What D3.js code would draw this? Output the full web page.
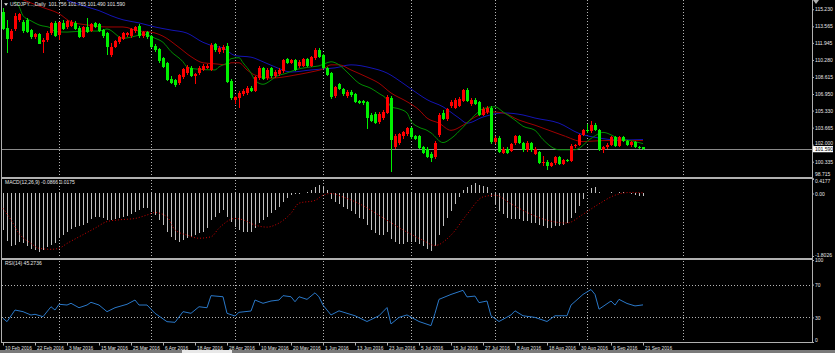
<!DOCTYPE html>
<html><head><meta charset="utf-8">
<script src="https://cdn.jsdelivr.net/npm/d3@7"></script>
<style>body{margin:0;background:#000;overflow:hidden}svg{display:block}text{font-family:"Liberation Sans",Arial,sans-serif}</style>
</head><body>
<svg id="c" width="835" height="353"></svg>
<script>
// ---------------- DATA ----------------
const symbolTitle = "USDJPY...,Daily  101.756 101.765 101.490 101.590";
const macdTitle = "MACD(12,26,9) -0.0866 0.0175";
const rsiTitle = "RSI(14) 45.2736";
const firstDate = "2016-02-10";
const lastPrice = 101.590;

const opens = [115.00,113.40,112.35,113.30,114.20,114.00,114.20,113.20,112.50,112.85,
112.00,112.20,112.90,113.90,112.70,113.90,113.50,113.60,113.90,113.40,
112.50,113.50,113.10,113.90,113.75,113.25,112.90,110.80,111.55,112.00,
112.30,112.70,112.60,113.10,113.60,112.60,113.00,112.60,111.65,111.30,
110.45,110.00,108.40,108.30,108.00,108.60,109.00,109.50,108.70,109.00,
109.30,109.45,109.30,111.80,111.05,111.25,111.65,108.20,106.35,106.55,
106.95,107.05,107.55,107.25,108.50,109.50,108.50,109.50,108.70,108.90,
109.20,110.35,110.00,110.25,109.65,109.70,110.35,109.70,110.45,111.25,
110.75,109.50,109.00,106.75,107.90,107.40,106.75,107.15,106.95,106.25,
106.30,106.15,104.90,105.00,104.20,104.60,105.10,106.60,101.80,102.20,
102.80,103.00,103.60,102.85,102.80,101.75,101.60,101.05,100.80,102.90,
105.10,104.50,105.75,105.60,105.80,106.30,107.30,105.95,106.40,106.15,
104.90,105.15,105.60,102.25,102.65,101.20,101.60,101.40,102.20,102.80,
102.20,101.45,102.20,101.05,101.25,100.25,100.30,99.90,100.20,100.75,
100.15,100.50,100.45,101.85,101.95,102.95,103.40,103.30,103.95,103.40,
101.50,101.80,102.00,102.70,101.90,102.70,102.40,102.00,102.25,101.80,101.756];
const highs = [115.35,114.20,113.30,114.85,114.90,114.15,114.40,113.35,112.95,112.95,
112.40,113.10,114.00,114.10,114.00,114.20,114.20,114.20,114.10,113.55,
113.60,114.35,113.90,114.00,113.90,113.35,113.00,111.90,112.25,112.60,
113.00,113.05,113.40,113.60,113.80,113.10,113.15,112.75,111.80,111.45,
110.55,110.10,108.70,108.45,108.95,109.50,109.75,109.65,109.00,109.65,
109.85,109.85,111.90,111.95,111.60,111.70,111.90,108.40,106.80,107.20,
107.40,107.70,107.75,108.75,109.65,109.60,109.45,109.60,109.25,109.45,
110.40,110.50,110.40,110.40,110.25,110.50,110.45,110.70,111.40,111.45,
110.85,109.60,109.10,107.75,108.05,107.55,107.30,107.35,107.05,106.40,
106.40,106.25,105.05,105.20,105.15,105.40,106.85,106.80,103.00,103.10,
103.35,103.70,103.70,102.95,102.95,101.90,101.75,101.25,102.40,105.10,
105.40,105.60,106.35,106.55,106.65,107.45,107.50,106.55,106.55,106.30,
105.65,105.75,105.80,102.80,102.85,101.75,101.80,102.15,102.90,102.95,
102.30,102.35,102.30,101.75,101.35,100.90,100.50,100.35,100.85,100.85,
100.60,100.60,102.05,102.10,103.05,103.55,104.00,104.30,104.10,103.50,
101.90,102.15,102.85,102.80,102.85,102.80,102.45,102.40,102.35,101.90,101.765];
const lows = [113.20,111.00,112.10,113.15,113.95,112.90,112.90,112.35,112.35,111.80,
111.00,112.00,112.70,112.55,112.25,113.20,113.35,113.45,113.20,112.40,
112.40,112.90,113.00,113.40,113.00,112.45,110.75,110.60,111.40,111.85,
112.20,112.55,112.45,112.95,112.40,112.45,112.35,111.45,111.10,110.00,
109.45,108.20,107.90,107.60,107.85,108.45,108.85,108.60,107.90,108.85,
109.15,109.35,109.20,111.10,110.90,110.95,108.00,106.40,106.00,105.60,
106.80,106.90,107.10,107.10,108.35,108.30,108.35,108.55,108.55,108.75,
109.05,109.90,109.85,109.20,109.50,109.55,109.60,109.55,110.30,110.45,
109.40,108.70,106.50,106.60,107.30,106.80,106.60,106.70,106.05,105.95,
105.90,103.55,104.20,104.00,104.05,104.45,104.95,99.30,101.60,102.00,
102.60,102.85,102.55,102.45,101.60,101.05,100.65,100.30,100.60,102.70,
104.40,104.35,105.60,105.45,105.70,106.15,106.15,105.80,105.85,104.80,
104.80,105.00,102.10,102.10,101.15,101.05,101.05,101.25,102.00,102.05,
101.30,101.30,101.30,100.95,100.15,99.95,99.55,99.85,100.05,100.05,
100.05,100.35,100.35,101.70,101.85,102.80,103.10,103.15,103.30,101.40,
101.20,101.55,101.90,101.80,101.75,102.25,101.90,101.80,101.70,101.55,101.490];
const closes = [113.35,112.30,113.10,114.60,114.75,113.10,113.05,112.55,112.85,111.85,
112.20,112.95,113.90,112.65,113.95,113.30,114.10,114.00,113.30,112.50,
113.50,113.00,113.80,113.50,113.10,112.60,111.50,111.55,112.10,112.50,
112.90,112.95,113.30,113.45,112.60,113.00,112.50,111.55,111.25,110.15,
109.60,108.30,108.05,107.85,108.80,109.40,109.60,108.70,108.90,109.50,
109.70,109.70,111.70,111.25,111.45,111.55,108.10,106.55,106.65,107.05,
107.25,107.55,107.25,108.60,109.50,108.40,109.30,108.70,109.10,109.30,
110.25,110.00,110.25,109.30,110.10,110.35,109.70,110.55,111.25,110.55,
109.50,108.80,106.70,107.60,107.40,106.95,107.15,106.85,106.15,106.05,
106.05,104.60,104.30,104.10,105.00,105.20,106.70,102.45,102.85,103.00,
103.20,103.60,102.70,102.60,101.70,101.20,100.80,100.70,102.20,104.90,
104.50,105.50,106.20,106.40,106.50,107.30,106.30,106.40,106.00,104.90,
105.50,105.60,102.25,102.65,101.30,101.60,101.20,102.05,102.80,102.20,
101.45,102.20,101.45,101.60,100.25,100.30,99.90,100.20,100.75,100.15,
100.50,100.45,101.85,101.95,102.95,103.40,103.30,103.95,103.40,101.50,
101.80,102.00,102.70,101.90,102.70,102.40,102.00,102.25,101.80,101.75,101.590];

// moving averages, read as [bar index, price]
const maFast = [[3,116.0],[4,115.5],[5,114.6],[7,114.1],[9,113.7],[12,113.4],[13,113.05],[16,113.0],[20,113.1],[24,113.1],[26,113.3],[30,112.4],[33,112.6],[35,112.8],[38,112.4],[40,112.0],[42,111.1],[45,110.1],[46,109.6],[48,109.4],[53,109.3],[54,109.6],[56,110.0],[57,110.4],[59,110.5],[60,110.0],[62,109.0],[63,108.3],[65,107.9],[67,108.3],[68,108.6],[71,109.0],[73,109.3],[77,109.6],[79,109.7],[81,110.0],[82,110.1],[84,109.8],[86,109.1],[89,108.0],[92,107.5],[94,107.0],[96,106.4],[97,105.7],[99,105.5],[101,105.1],[102,104.3],[104,103.7],[106,103.4],[107,103.15],[110,102.2],[112,102.6],[115,103.7],[118,104.9],[120,105.5],[123,105.7],[125,105.2],[128,104.4],[130,103.8],[133,103.4],[135,102.5],[139,101.5],[143,101.5],[147,102.6],[150,103.2],[154,102.6],[158,102.3],[160,102.1]];
const maMid = [[4,116.3],[8,115.7],[10,115.4],[14,114.8],[17,114.0],[21,113.7],[26,113.5],[30,113.5],[34,113.1],[37,113.0],[40,112.6],[44,111.5],[47,110.6],[50,110.0],[53,109.9],[56,109.8],[57,110.0],[59,110.0],[61,109.3],[63,108.8],[67,108.5],[70,108.6],[73,108.8],[77,109.1],[80,109.4],[82,109.8],[84,109.8],[87,109.3],[91,108.6],[94,108.0],[97,107.05],[101,106.2],[104,105.4],[106,104.6],[109,104.1],[112,103.4],[115,103.9],[118,104.7],[122,105.2],[125,105.1],[129,104.4],[133,103.9],[140,102.9],[145,102.3],[150,102.4],[155,102.4],[160,102.4]];
const maSlow = [[16,116.1],[21,115.45],[24,115.1],[27,114.6],[30,114.2],[34,113.9],[38,113.5],[42,113.2],[46,112.9],[50,112.0],[53,111.6],[55,111.45],[58,110.7],[62,110.55],[65,110.1],[68,109.6],[72,109.1],[77,109.3],[80,109.4],[83,109.5],[87,109.8],[92,109.5],[96,109.0],[100,108.0],[104,106.9],[106,106.4],[110,105.7],[114,104.6],[116,104.1],[120,104.7],[125,105.1],[130,104.9],[133,104.6],[139,104.1],[144,103.1],[149,102.65],[154,102.45],[160,102.5]];

const macdHist = [-1.05,-1.36,-1.51,-1.49,-1.39,-1.42,-1.51,-1.61,-1.63,-1.68,
-1.63,-1.55,-1.49,-1.44,-1.29,-1.20,-1.10,-1.03,-0.97,-0.94,
-0.91,-0.84,-0.74,-0.67,-0.67,-0.72,-0.76,-0.76,-0.74,-0.72,
-0.67,-0.65,-0.59,-0.52,-0.48,-0.43,-0.43,-0.52,-0.62,-0.76,
-0.91,-1.10,-1.25,-1.34,-1.39,-1.34,-1.29,-1.25,-1.20,-1.15,
-1.10,-1.00,-0.76,-0.67,-0.57,-0.48,-0.67,-0.81,-0.96,-1.05,
-1.10,-1.10,-1.10,-1.00,-0.86,-0.76,-0.67,-0.57,-0.48,-0.38,
-0.24,-0.14,-0.04,-0.01,-0.01,0.00,0.05,0.10,0.20,0.25,
0.20,0.10,-0.15,-0.25,-0.30,-0.40,-0.45,-0.50,-0.60,-0.70,
-0.75,-0.90,-1.05,-1.15,-1.20,-1.20,-1.10,-1.30,-1.40,-1.45,
-1.45,-1.40,-1.40,-1.40,-1.45,-1.50,-1.60,-1.65,-1.50,-1.20,
-0.95,-0.70,-0.50,-0.30,-0.10,0.10,0.20,0.25,0.30,0.25,
0.22,0.20,-0.10,-0.30,-0.50,-0.60,-0.70,-0.75,-0.75,-0.75,
-0.80,-0.80,-0.85,-0.85,-0.90,-0.95,-1.00,-1.00,-0.95,-0.95,
-0.90,-0.85,-0.70,-0.55,-0.35,-0.15,0.00,0.15,0.20,0.05,
0.00,0.00,0.05,0.02,0.05,0.03,0.00,-0.02,-0.05,-0.07,-0.0866];
const macdSignal = [[0,-0.43],[2,-0.76],[4,-1.15],[7,-1.44],[9,-1.58],[12,-1.61],[14,-1.58],[16,-1.44],[19,-1.25],[23,-1.00],[26,-0.81],[29,-0.76],[33,-0.72],[36,-0.62],[38,-0.55],[41,-0.67],[43,-1.05],[46,-1.20],[49,-1.29],[52,-1.25],[54,-1.00],[58,-0.72],[60,-0.76],[63,-0.91],[66,-0.97],[68,-0.91],[72,-0.57],[74,-0.28],[78,-0.2],[80,-0.05],[82,0.0],[85,-0.1],[90,-0.35],[95,-0.7],[100,-1.05],[105,-1.35],[108,-1.5],[112,-1.2],[116,-0.6],[120,-0.1],[123,-0.05],[127,-0.3],[132,-0.6],[137,-0.8],[141,-0.85],[145,-0.6],[149,-0.3],[153,-0.05],[157,0.03],[160,0.0175]];

const rsi = [[0,28.9],[1,24.8],[3,39.0],[5,37.0],[7,32.9],[8,33.8],[10,30.9],[12,43.0],[13,39.0],[14,46.0],[16,45.1],[17,47.2],[19,41.8],[21,45.1],[22,48.4],[24,45.1],[26,37.0],[28,41.8],[31,46.0],[33,51.2],[34,45.1],[36,45.1],[38,35.0],[41,24.8],[43,24.0],[45,37.0],[47,35.0],[49,43.0],[51,41.8],[52,56.5],[55,55.2],[56,35.0],[58,31.7],[59,36.2],[62,37.8],[63,51.2],[65,47.2],[67,50.0],[69,51.2],[70,56.5],[72,55.2],[73,49.1],[74,55.2],[76,52],[78,60],[79,55],[80,45],[82,33],[84,38],[86,35],[88,32],[91,25],[94,32],[96,42],[97,22],[99,30],[101,33],[104,25],[107,20],[108,35],[109,52],[112,58],[115,63],[116,55],[118,56],[119,48],[121,50],[122,32],[124,25],[127,33],[128,38],[130,32],[133,30],[136,25],[138,32],[141,32],[142,45],[145,58],[147,64],[148,58],[149,40],[152,50],[153,45],[154,52],[156,47],[158,44],[160,45.27]];

const priceTicks = [115.230,113.565,111.945,110.280,108.615,106.950,105.330,103.665,102.000,100.335,98.715];
const macdTicks = [0.4177,0.00,-1.8026];
const macdTickLabels = ["0.4177","0.00","-1.8026"];
const rsiTicks = [100,70,30,0];
const rsiLevels = [70,30];

// ---------------- LAYOUT ----------------
const W=835, H=353, plotR=812;
const svg=d3.select('#c');
svg.append('rect').attr('width',W).attr('height',H).attr('fill','#000');

const nBars = closes.length;
const parse = d3.timeParse("%Y-%m-%d");
const start = parse(firstDate);
// trading days for the bars, calendar days for the empty space on the right (as the terminal does)
const tradeDays = d3.timeDays(start, d3.timeDay.offset(start, 320)).filter(d=>d.getDay()!==0 && d.getDay()!==6).slice(0, nBars);
const x = d3.scaleLinear().domain([0, nBars-1]).range([3, 643]);
const maxIdx = Math.floor(x.invert(plotR));
const futureDays = d3.timeDays(d3.timeDay.offset(tradeDays[nBars-1],1), d3.timeDay.offset(tradeDays[nBars-1], maxIdx-nBars+2));
const dates = tradeDays.concat(futureDays);

const yMain = d3.scaleLinear().domain([98.84,115.94]).range([177,2]);
const yMacd = d3.scaleLinear().domain([-1.8026,0.4177]).range([256,179]);
const yRsi  = d3.scaleLinear().domain([0,100]).range([342,260]);

const defs = svg.append('defs');
function clip(id,y0,y1){defs.append('clipPath').attr('id',id).append('rect').attr('x',1).attr('y',y0).attr('width',plotR-1).attr('height',y1-y0);}
clip('cMain',0,177); clip('cMacd',179,257); clip('cRsi',260,342);

const px = i => Math.round(x(i))+0.5;

// month grid lines (dotted)
const monthIdx = [];
dates.forEach((d,i)=>{ if(i>0 && d.getMonth()!==dates[i-1].getMonth() && x(i) < 700) monthIdx.push(i); });
svg.append('g').selectAll('line').data(monthIdx).join('line')
  .attr('x1',d=>px(d)).attr('x2',d=>px(d)).attr('y1',0).attr('y2',342)
  .attr('stroke','#b4b4b4').attr('stroke-width',1).attr('stroke-dasharray','1,2');

// RSI levels
svg.append('g').selectAll('line').data(rsiLevels).join('line')
  .attr('x1',2).attr('x2',plotR).attr('y1',d=>Math.round(yRsi(d))+0.5).attr('y2',d=>Math.round(yRsi(d))+0.5)
  .attr('stroke','#b4b4b4').attr('stroke-dasharray','1,2');

// ---------------- MAIN PANEL ----------------
const gMain = svg.append('g').attr('clip-path','url(#cMain)');
gMain.append('line').attr('x1',2).attr('x2',plotR).attr('y1',Math.round(yMain(lastPrice))+0.5).attr('y2',Math.round(yMain(lastPrice))+0.5)
  .attr('stroke','#8a8a8a').attr('stroke-width',1);

const line = d3.line().x(d=>x(d[0])).y(d=>yMain(d[1])).curve(d3.curveMonotoneX);
gMain.append('path').attr('d',line(maSlow)).attr('fill','none').attr('stroke','#1414b4').attr('stroke-width',1);
gMain.append('path').attr('d',line(maMid)).attr('fill','none').attr('stroke','#a00000').attr('stroke-width',1);
gMain.append('path').attr('d',line(maFast)).attr('fill','none').attr('stroke','#008c00').attr('stroke-width',1);

const bars = d3.range(nBars).map(i=>({i,o:opens[i],h:highs[i],l:lows[i],c:closes[i]}));
const col = d => d.c>=d.o ? '#ff0000' : '#00f000';
const gC = gMain.append('g').attr('shape-rendering','crispEdges');
gC.selectAll('line').data(bars).join('line')
  .attr('x1',d=>px(d.i)).attr('x2',d=>px(d.i))
  .attr('y1',d=>yMain(d.h)).attr('y2',d=>yMain(d.l))
  .attr('stroke',col).attr('stroke-width',1);
gC.selectAll('rect').data(bars).join('rect')
  .attr('x',d=>Math.round(x(d.i))-1).attr('width',3)
  .attr('y',d=>Math.round(yMain(Math.max(d.o,d.c))))
  .attr('height',d=>Math.max(1,Math.round(yMain(Math.min(d.o,d.c)))-Math.round(yMain(Math.max(d.o,d.c)))))
  .attr('fill',col);

// ---------------- MACD PANEL ----------------
const gM = svg.append('g').attr('clip-path','url(#cMacd)');
gM.append('g').attr('shape-rendering','crispEdges').selectAll('line').data(macdHist).join('line')
  .attr('x1',(d,i)=>px(i)).attr('x2',(d,i)=>px(i))
  .attr('y1',yMacd(0)).attr('y2',d=>yMacd(d))
  .attr('stroke','#c0c0c0').attr('stroke-width',1);
const lineM = d3.line().x(d=>x(d[0])).y(d=>yMacd(d[1])).curve(d3.curveMonotoneX);
gM.append('path').attr('d',lineM(macdSignal)).attr('fill','none').attr('stroke','#d00000').attr('stroke-width',1).attr('stroke-dasharray','1,2');

// ---------------- RSI PANEL ----------------
const gR = svg.append('g').attr('clip-path','url(#cRsi)');
const lineR = d3.line().x(d=>x(d[0])).y(d=>yRsi(d[1]));
gR.append('path').attr('d',lineR(rsi)).attr('fill','none').attr('stroke','#2a78c8').attr('stroke-width',1);

// ---------------- FRAMES ----------------
const frame = svg.append('g').attr('stroke','#b0b0b0').attr('fill','none').attr('shape-rendering','crispEdges');
frame.append('line').attr('x1',1.5).attr('x2',1.5).attr('y1',0).attr('y2',342);
frame.append('line').attr('x1',plotR+0.5).attr('x2',plotR+0.5).attr('y1',0).attr('y2',342.5);
[177.5,178.5,258.5,259.5,342.5].forEach(y=>frame.append('line').attr('x1',1).attr('x2',plotR+1).attr('y1',y).attr('y2',y));

// ---------------- AXES ----------------
const fs = 5, tc = '#e6e6e6';
function styleAxis(g){ g.select('.domain').remove(); g.selectAll('line').attr('stroke','#b0b0b0'); g.selectAll('text').attr('fill',tc).style('font-size',fs+'px').attr('x',3); }
const gy = svg.append('g').attr('transform',`translate(${plotR},0)`)
  .call(d3.axisRight(yMain).tickValues(priceTicks).tickFormat(d3.format('.3f')).tickSize(2)).call(styleAxis);
gy.selectAll('.tick').filter(d=>d===98.715).select('text').attr('dy','-0.55em');
gy.selectAll('.tick').filter(d=>d===102.000).select('text').attr('dy','-0.05em');
const gym = svg.append('g').attr('transform',`translate(${plotR},0)`)
  .call(d3.axisRight(yMacd).tickValues(macdTicks).tickFormat((d,i)=>macdTickLabels[i]).tickSize(2)).call(styleAxis);
gym.selectAll('.tick').filter(d=>d===0.4177).select('text').attr('dy','0.75em');
gym.selectAll('.tick').filter(d=>d===-1.8026).select('text').attr('dy','0.05em');
svg.append('g').attr('transform',`translate(${plotR},0)`)
  .call(d3.axisRight(yRsi).tickValues(rsiTicks).tickFormat(d3.format('d')).tickSize(2)).call(styleAxis)
  .selectAll('.tick').filter(d=>d===0).select('text').attr('dy','-0.2em');

// current price box
const yp = yMain(lastPrice);
svg.append('rect').attr('x',plotR+1).attr('y',yp-2.8).attr('width',20).attr('height',6.2).attr('fill','#ffffff');
svg.append('text').attr('x',plotR+3).attr('y',yp+1.9).attr('fill','#000').style('font-size',fs+'px').text(d3.format('.3f')(lastPrice));

// date axis
const tickIdx = d3.range(0, nBars, 8);
const fmt = d3.timeFormat('%-d %b %Y');
const gx = svg.append('g').attr('transform','translate(0,342)');
gx.selectAll('line').data(tickIdx).join('line')
  .attr('x1',d=>px(d)).attr('x2',d=>px(d)).attr('y1',0.5).attr('y2',3.5).attr('stroke','#b0b0b0');
gx.selectAll('text').data(tickIdx).join('text')
  .attr('x',d=>px(d)+1.5).attr('y',7.8).attr('fill',tc).style('font-size','4.8px').text(d=>fmt(dates[d]));

// titles
svg.append('path').attr('d','M4,3.2 L8,3.2 L6,5.8 Z').attr('fill','#e6e6e6');
svg.append('text').attr('x',10).attr('y',6.3).attr('fill',tc).style('font-size',fs+'px').style('white-space','pre').text(symbolTitle);
svg.append('text').attr('x',5).attr('y',183.8).attr('fill',tc).style('font-size',fs+'px').text(macdTitle);
svg.append('text').attr('x',5).attr('y',265.3).attr('fill',tc).style('font-size',fs+'px').text(rsiTitle);
// chart shift marker
svg.append('path').attr('d','M813,0 L819,0 L816,4 Z').attr('fill','#b0b0b0');
// bottom strip
svg.append('rect').attr('x',0).attr('y',350).attr('width',W).attr('height',3).attr('fill','#7a7a7a');
svg.append('rect').attr('x',182).attr('y',350).attr('width',50).attr('height',3).attr('fill','#e8e8e8');
</script>
</body></html>
